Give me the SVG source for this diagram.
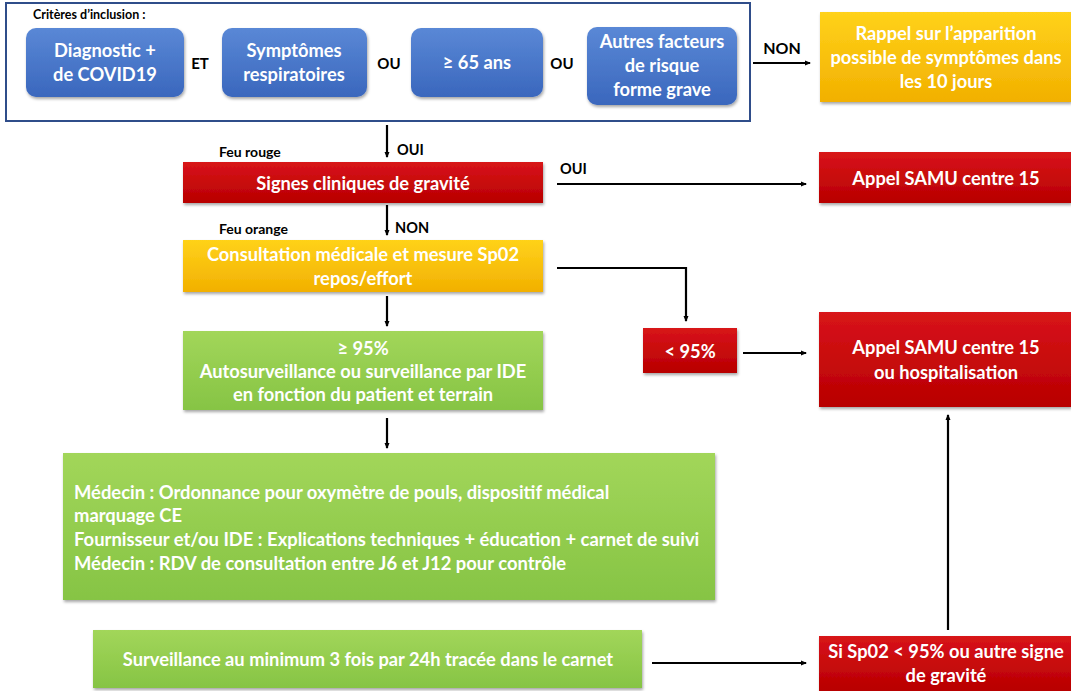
<svg xmlns="http://www.w3.org/2000/svg" width="1071" height="691" viewBox="0 0 1071 691">
<style>
text{font-family:Lato,"Liberation Sans",sans-serif;font-weight:bold}
.w{fill:#fff;text-anchor:middle;font-size:18.3px}
.wl{fill:#fff;font-size:18.4px}
.k{fill:#000}
.line{stroke:#000;stroke-width:2.2;fill:none}
</style>
<defs>
<linearGradient id="gb" x1="0" y1="0" x2="0" y2="1"><stop offset="0" stop-color="#5a88d6"/><stop offset="1" stop-color="#3a67bd"/></linearGradient>
<linearGradient id="gr" x1="0" y1="0" x2="0" y2="1"><stop offset="0" stop-color="#d8141a"/><stop offset="1" stop-color="#b80000"/></linearGradient>
<linearGradient id="gy" x1="0" y1="0" x2="0" y2="1"><stop offset="0" stop-color="#ffd21a"/><stop offset="1" stop-color="#f2b000"/></linearGradient>
<linearGradient id="gg" x1="0" y1="0" x2="0" y2="1"><stop offset="0" stop-color="#a2d65a"/><stop offset="1" stop-color="#86c444"/></linearGradient>
<filter id="sh" x="-5%" y="-10%" width="110%" height="130%"><feDropShadow dx="1" dy="2" stdDeviation="1.5" flood-color="#000" flood-opacity="0.35"/></filter>
<marker id="ah" markerWidth="6" markerHeight="6" refX="5" refY="3" orient="auto" markerUnits="userSpaceOnUse"><path d="M0,0.5 L6,3 L0,5.5 z" fill="#000"/></marker>
</defs>
<rect width="1071" height="691" fill="#fff"/>

<g id="inclusion">
<rect x="6" y="3" width="744" height="118" fill="none" stroke="#2f4d8a" stroke-width="2"/>
<text x="33" y="19" font-size="12.5" class="k">Critères d’inclusion :</text>
<text x="200" y="69" font-size="15" class="k" text-anchor="middle">ET</text>
<text x="389" y="69" font-size="15" class="k" text-anchor="middle">OU</text>
<text x="562" y="69" font-size="15" class="k" text-anchor="middle">OU</text>
</g>
<g id="diag">
<rect x="26" y="28" width="158" height="69" rx="10" fill="url(#gb)" filter="url(#sh)"/>
<text x="105" y="57" class="w">Diagnostic +</text>
<text x="105" y="81" class="w">de COVID19</text>
</g>
<g id="symptomes">
<rect x="222" y="28" width="145" height="69" rx="10" fill="url(#gb)" filter="url(#sh)"/>
<text x="294" y="57" class="w">Symptômes</text>
<text x="294" y="81" class="w">respiratoires</text>
</g>
<g id="age">
<rect x="411" y="28" width="132" height="69" rx="10" fill="url(#gb)" filter="url(#sh)"/>
<text x="477" y="69" class="w">≥ 65 ans</text>
</g>
<g id="autres">
<rect x="587" y="27" width="150" height="78" rx="10" fill="url(#gb)" filter="url(#sh)"/>
<text x="662" y="48" class="w">Autres facteurs</text>
<text x="662" y="72" class="w">de risque</text>
<text x="662" y="96" class="w">forme grave</text>
</g>
<g id="rappel">
<rect x="820" y="12" width="251" height="90" fill="url(#gy)" filter="url(#sh)"/>
<text x="946" y="40" class="w">Rappel sur l’apparition</text>
<text x="946" y="64" class="w">possible de symptômes dans</text>
<text x="946" y="88" class="w">les 10 jours</text>
</g>
<g id="signes">
<text x="219" y="157" font-size="14" class="k">Feu rouge</text>
<rect x="183" y="162" width="360" height="41" fill="url(#gr)" filter="url(#sh)"/>
<text x="363" y="190" class="w">Signes cliniques de gravité</text>
</g>
<g id="samu1">
<rect x="819" y="152" width="252" height="51" fill="url(#gr)" filter="url(#sh)"/>
<text x="946" y="185" class="w">Appel SAMU centre 15</text>
</g>
<g id="consultation">
<text x="219" y="234" font-size="14" class="k">Feu orange</text>
<rect x="183" y="240" width="360" height="52" fill="url(#gy)" filter="url(#sh)"/>
<text x="363" y="261" class="w">Consultation médicale et mesure Sp02</text>
<text x="363" y="285" class="w">repos/effort</text>
</g>
<g id="inf95">
<rect x="643" y="328" width="94" height="45" fill="url(#gr)" filter="url(#sh)"/>
<text x="690" y="358" class="w">&lt; 95%</text>
</g>
<g id="samu2">
<rect x="819" y="312" width="252" height="95" fill="url(#gr)" filter="url(#sh)"/>
<text x="946" y="354" class="w">Appel SAMU centre 15</text>
<text x="946" y="379" class="w">ou hospitalisation</text>
</g>
<g id="sup95">
<rect x="183" y="331" width="360" height="79" fill="url(#gg)" filter="url(#sh)"/>
<text x="363" y="355" class="w">≥ 95%</text>
<text x="363" y="378" class="w">Autosurveillance ou surveillance par IDE</text>
<text x="363" y="401" class="w">en fonction du patient et terrain</text>
</g>
<g id="medecin">
<rect x="63" y="453" width="652" height="147" fill="url(#gg)" filter="url(#sh)"/>
<text x="74" y="499" class="wl">Médecin : Ordonnance pour oxymètre de pouls, dispositif médical</text>
<text x="74" y="522" class="wl">marquage CE</text>
<text x="74" y="546" class="wl">Fournisseur et/ou IDE : Explications techniques + éducation + carnet de suivi</text>
<text x="74" y="570" class="wl">Médecin : RDV de consultation entre J6 et J12 pour contrôle</text>
</g>
<g id="surveillance">
<rect x="93" y="630" width="549" height="58" fill="url(#gg)" filter="url(#sh)"/>
<text x="368" y="666" class="w" font-size="18.7">Surveillance au minimum 3 fois par 24h tracée dans le carnet</text>
</g>
<g id="sisp02">
<rect x="819" y="636" width="252" height="55" fill="url(#gr)" filter="url(#sh)"/>
<text x="946" y="658" class="w">Si Sp02 &lt; 95% ou autre signe</text>
<text x="946" y="682" class="w">de gravité</text>
</g>

<g id="connectors">
<path class="line" d="M753,63 H810" marker-end="url(#ah)"/>
<text x="782" y="54" font-size="16" class="k" text-anchor="middle">NON</text>
<path class="line" d="M387,125 V157" marker-end="url(#ah)"/>
<text x="397" y="155" font-size="14.5" class="k">OUI</text>
<path class="line" d="M557,184 H806" marker-end="url(#ah)"/>
<text x="560" y="174" font-size="14.5" class="k">OUI</text>
<path class="line" d="M387,205 V235" marker-end="url(#ah)"/>
<text x="395" y="233" font-size="14.5" class="k">NON</text>
<path class="line" d="M557,268 H686 V321" marker-end="url(#ah)"/>
<path class="line" d="M743,353 H806" marker-end="url(#ah)"/>
<path class="line" d="M387,296 V326" marker-end="url(#ah)"/>
<path class="line" d="M387,418 V448" marker-end="url(#ah)"/>
<path class="line" d="M652,663 H806" marker-end="url(#ah)"/>
<path class="line" d="M948,630 V415" marker-end="url(#ah)"/>
</g>
</svg>
